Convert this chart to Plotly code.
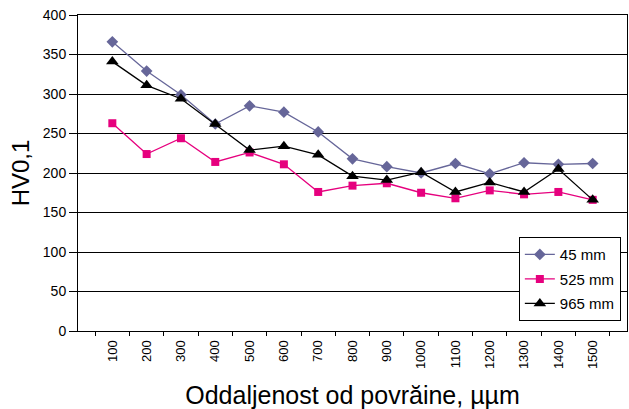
import plotly.graph_objects as go

categories = ["100", "200", "300", "400", "500", "600", "700", "800", "900", "1000",
              "1100", "1200", "1300", "1400", "1500"]
s45 = [366, 329, 299, 262, 285, 277, 252, 218, 208, 200, 212, 199, 213, 211, 212]
s525 = [263, 224, 244, 214, 226, 211, 176, 184, 187, 175, 168, 178, 173, 176, 166]
s965 = [341, 311, 294, 262, 229, 234, 223, 196, 191, 201, 176, 188, 176, 205, 166]
names = ["45 mm", "525 mm", "965 mm"]
colors = ["#666699", "#E6007E", "#000000"]
symbols = ["diamond", "square", "triangle-up"]
sizes = [9, 8, 11]

fig = go.Figure()
for i, (vals, name, col, sym, sz) in enumerate(zip([s45, s525, s965], names, colors, symbols, sizes)):
    fig.add_trace(go.Scatter(
        x=categories, y=vals, name=name, mode="lines+markers", legendgroup=f"g{i}",
        line=dict(color=col, width=1.3),
        marker=dict(symbol=sym, size=sz, color=col),
    ))

fig.update_layout(
    width=629, height=409,
    margin=dict(l=78, r=2, t=15, b=78),
    paper_bgcolor="white", plot_bgcolor="white",
    font=dict(family="Liberation Sans, Arial, sans-serif", color="black", size=14),
    showlegend=True,
    legend=dict(x=0.803, y=0.297, xanchor="left", yanchor="top",
                bordercolor="black", borderwidth=1, bgcolor="white",
                font=dict(size=15), tracegroupgap=2),
)
fig.update_xaxes(
    type="category", tickson="boundaries", ticks="outside", ticklen=4,
    tickcolor="black", tickangle=-90, showgrid=False, automargin=False,
    showline=True, linecolor="black", linewidth=1, mirror=True,
    tickfont=dict(size=13), ticklabelstandoff=3,
    title=dict(text="Oddaljenost od povrăine, µµm", font=dict(size=25), standoff=21),
)
fig.update_yaxes(
    range=[0, 400], dtick=50, ticks="outside", ticklen=8, tickcolor="black",
    showgrid=True, gridcolor="black", gridwidth=1, automargin=False,
    showline=True, linecolor="black", linewidth=1, mirror=True,
    zeroline=False, tickfont=dict(size=14),
    title=dict(text="HV0,1", font=dict(size=24), standoff=6),
)
# remove the browser's default 8px body margin so the figure sits at the page origin
fig.write_html("out.html", config={"displayModeBar": False},
               post_script="document.body.style.margin='0';")
